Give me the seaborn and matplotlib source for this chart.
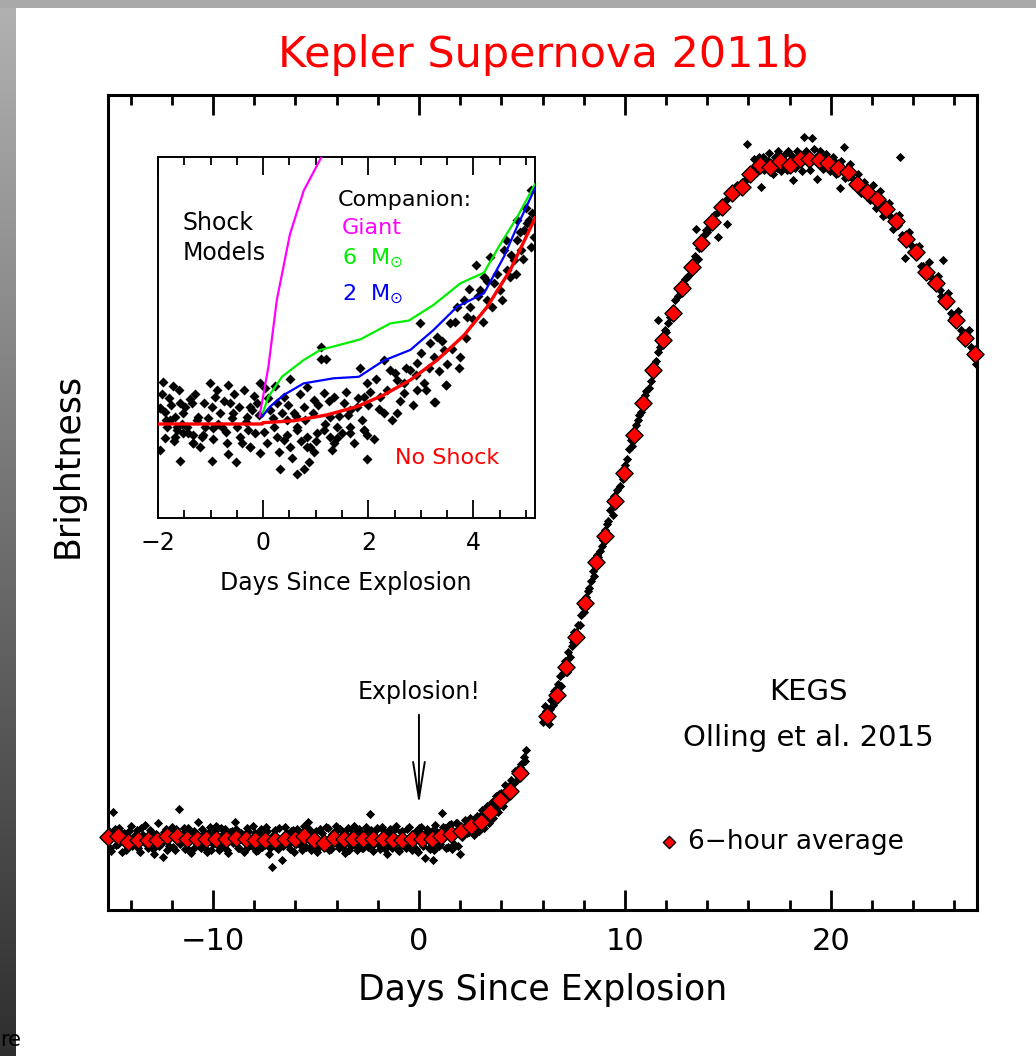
import numpy as np
import pandas as pd
import matplotlib
matplotlib.use("Agg")
import matplotlib.pyplot as plt
from matplotlib.colors import LinearSegmentedColormap
from matplotlib.patches import Rectangle
from matplotlib.ticker import MultipleLocator, FixedLocator
import seaborn as sns

# ---------------- data ----------------
# 6-hour averages (red diamonds): days since explosion, relative brightness (peak ~100)
avg_days = [-15.08, -14.6, -14.13, -13.65, -13.18, -12.7, -12.22, -11.75, -11.27, -10.8,
            -10.32, -9.85, -9.37, -8.9, -8.42, -7.94, -7.47, -6.99, -6.52, -6.04,
            -5.57, -5.09, -4.61, -4.14, -3.66, -3.19, -2.71, -2.24, -1.76, -1.28,
            -0.81, -0.33, 0.14, 0.62, 1.09, 1.57, 2.04, 2.52, 2.99, 3.47,
            3.94, 4.42, 4.89,
            6.2, 6.68, 7.14, 7.61, 8.06, 8.58, 9.04, 9.5, 9.97, 10.44,
            10.89, 11.37, 11.86, 12.34, 12.78, 13.24, 13.72, 14.21, 14.7, 15.18,
            15.67, 16.1, 16.55, 17.07, 17.52, 18.01, 18.5, 18.95, 19.42, 19.87,
            20.36, 20.84, 21.28, 21.76, 22.25, 22.7, 23.19, 23.64, 24.16, 24.61,
            25.1, 25.58, 26.07, 26.54, 26.99]
avg_flux = [0.3, 0.35, -0.4, -0.15, -0.15, -0.15, 0.35, 0.35, 0.0, 0.0,
            0.0, 0.0, 0.0, 0.1, 0.0, -0.15, -0.15, -0.15, 0.0, 0.0,
            0.35, -0.15, -0.55, 0.1, 0.0, 0.0, 0.0, 0.0, 0.0, -0.15,
            -0.15, 0.0, 0.0, 0.0, 0.35, 0.75, 1.15, 1.9, 2.55, 4.0,
            5.7, 7.0, 9.7,
            18.1, 21.2, 25.4, 29.7, 34.8, 40.8, 44.7, 49.8, 54.0, 59.5,
            64.3, 69.1, 73.6, 77.5, 81.2, 84.4, 87.9, 91.0, 93.2, 95.2,
            96.1, 98.1, 99.4, 99.1, 99.9, 99.4, 100.3, 100.3, 100.1, 99.6,
            99.0, 98.3, 96.6, 95.4, 94.3, 92.9, 91.1, 88.4, 86.6, 83.6,
            81.9, 79.3, 76.5, 73.9, 71.5]

# raw Kepler points (black) - pre-explosion baseline
raw_base_days = [-15.05, -14.95, -14.85, -14.7, -14.55, -14.4, -14.3, -14.15, -14.0, -13.85,
                 -13.7, -13.55, -13.4, -13.3, -13.15, -13.0, -12.85, -12.67, -12.55, -12.43,
                 -12.3, -12.15, -12.0, -11.85, -11.65, -11.5, -11.35, -11.2, -11.05, -10.9,
                 -10.73, -10.6, -10.45, -10.3, -10.15, -10.0, -9.85, -9.7, -9.55, -9.4,
                 -9.27, -9.1, -8.93, -8.8, -8.65, -8.5, -8.35, -8.2, -8.05, -7.9,
                 -7.75, -7.6, -7.45, -7.3, -7.14, -7.0, -6.85, -6.65, -6.5, -6.35,
                 -6.2, -6.05, -5.9, -5.75, -5.6, -5.39, -5.25, -5.1, -4.95, -4.8,
                 -4.65, -4.5, -4.35, -4.2, -4.05, -3.9, -3.75, -3.6, -3.45, -3.3,
                 -3.15, -3.0, -2.85, -2.7, -2.55, -2.38, -2.25, -2.1, -1.95, -1.8,
                 -1.65, -1.55, -1.4, -1.25, -1.1, -0.95, -0.8, -0.65, -0.5, -0.35,
                 -0.2, -0.05, 0.1, 0.29, 0.4, 0.55, 0.68, 0.8, 0.95, 1.12,
                 1.25, 1.4, 1.55, 1.7, 1.85, 1.99]
raw_base_flux = [1.2, -1.8, 4.0, -0.9, 1.6, -2.0, 0.8, -1.2, 1.9, -0.6,
                 1.3, -1.9, 0.5, 2.0, -1.4, 1.0, -2.2, 2.4, -0.8, -2.7,
                 1.5, -1.1, 1.8, -1.7, 4.4, 0.7, -1.5, 1.6, -2.1, 1.1,
                 2.5, -1.3, 0.9, -2.0, 1.7, -0.7, 1.9, -1.6, 0.6, 1.4,
                 -2.1, 1.2, 2.5, -1.4, 0.8, -1.9, 1.6, -0.9, 1.9, -1.8,
                 1.0, -1.2, 1.7, -2.2, -4.1, 1.3, -1.5, -3.1, 1.8, -0.8,
                 1.2, -1.9, 1.5, -1.1, 1.9, 2.5, -1.6, 0.9, -2.0, 1.4,
                 -0.9, 1.7, -1.7, 0.7, 1.9, -1.3, 1.2, -2.1, 1.6, -1.0,
                 1.9, -1.7, 1.0, -1.3, 1.7, 3.7, -1.8, 1.3, -0.9, 1.8,
                 -1.5, -2.2, 1.5, -1.1, 1.9, -1.8, 1.2, -1.3, 1.8, -1.6,
                 1.0, -2.0, 1.7, -2.8, 1.4, -1.5, -3.1, 2.0, -1.0, 3.8,
                 1.6, -1.2, 2.2, -0.8, 2.4, -2.2]
raw_base2_days = [-14.98, -14.78, -14.62, -14.48, -14.22, -14.08, -13.92, -13.78, -13.62, -13.48,
                  -13.22, -13.08, -12.92, -12.78, -12.62, -12.38, -12.22, -12.08, -11.92, -11.78,
                  -11.58, -11.42, -11.28, -11.12, -10.98, -10.82, -10.68, -10.52, -10.38, -10.22,
                  -10.08, -9.92, -9.78, -9.62, -9.48, -9.34, -9.18, -9.02, -8.87, -8.72,
                  -8.58, -8.42, -8.28, -8.12, -7.98, -7.82, -7.68, -7.52, -7.38, -7.22,
                  -7.08, -6.92, -6.78, -6.58, -6.42, -6.28, -6.12, -5.98, -5.82, -5.68,
                  -5.5, -5.32, -5.18, -5.02, -4.88, -4.72, -4.58, -4.42, -4.28, -4.12,
                  -3.98, -3.82, -3.68, -3.52, -3.38, -3.22, -3.08, -2.92, -2.78, -2.62,
                  -2.47, -2.32, -2.18, -2.02, -1.88, -1.72, -1.6, -1.47, -1.32, -1.18,
                  -1.02, -0.88, -0.72, -0.58, -0.42, -0.28, -0.12, 0.02, 0.18, 0.34,
                  0.48, 0.62, 0.74, 0.88, 1.04, 1.18, 1.32, 1.48, 1.62, 1.78,
                  1.92]
raw_base2_flux = [-1.3, 1.5, -0.7, 0.9, -1.6, 1.2, -1.0, 0.6, -1.4, 1.6,
                  -0.9, 1.3, -1.5, 0.7, -1.1, 1.0, -1.6, 0.8, -1.2, 1.4,
                  -0.8, 1.6, -1.3, 0.9, -1.5, 0.6, -1.0, 1.5, -1.4, 0.8,
                  -1.7, 1.2, -0.9, 1.6, -1.2, -1.6, 1.0, -0.6, 1.5, -1.3,
                  0.7, -1.5, 1.2, -1.1, 0.9, -1.6, 1.4, -0.8, 1.1, -1.4,
                  0.6, -1.2, 1.6, -1.0, 0.8, -1.5, 1.3, -0.7, 1.0, -1.6,
                  -1.2, 1.5, -0.9, 1.2, -1.4, 0.8, -1.1, 1.6, -1.5, 1.0,
                  -0.8, 1.4, -1.3, 0.7, -1.6, 1.2, -1.0, 1.5, -1.4, 0.9,
                  -1.2, 1.3, -0.7, 1.6, -1.5, 1.1, -1.0, 0.8, -1.3, 1.5,
                  -1.6, 1.0, -0.9, 1.4, -1.2, 0.7, -1.5, 1.6, -1.1, 0.9,
                  -1.4, 1.2, -1.6, 1.0, -0.8, 1.7, -1.3, 2.0, -1.5, 2.3,
                  -1.0]
# raw points - rise
raw_rise_days = [2.1, 2.25, 2.35, 2.5, 2.65, 2.8, 2.9, 3.05, 3.15, 3.3,
                 3.4, 3.55, 3.6, 3.75, 3.85, 4.0, 4.1, 4.2, 4.3, 4.45,
                 4.55, 4.65, 4.75, 4.95, 5.05, 5.2, 5.15, 6.1, 6.3, 6.4,
                 6.55, 6.75, 6.85, 7.0, 7.25, 7.35, 7.5, 7.7, 7.85, 8.0,
                 8.2, 8.35, 8.45, 8.7, 8.8, 8.95, 9.15, 9.3, 9.4, 9.6,
                 9.75, 9.85, 10.1, 10.2, 10.35, 10.55, 10.7, 10.8, 11.0, 11.15,
                 11.3, 11.5, 11.62, 11.7, 11.95, 12.1, 12.25, 12.45, 12.6, 12.9,
                 13.05, 13.4, 13.45, 13.55, 13.85, 14.0, 14.35, 14.53, 14.5, 14.85,
                 14.97, 15.0, 15.3, 15.45, 15.8, 15.91, 15.95]
raw_rise_flux = [0.2, 2.8, 0.9, 3.0, 0.6, 3.3, 1.2, 4.2, 1.6, 4.8,
                 2.4, 5.4, 3.0, 6.3, 4.0, 6.8, 4.8, 8.0, 6.0, 8.6,
                 7.0, 10.0, 8.6, 11.0, 10.0, 13.1, 11.5, 19.6, 17.0, 20.5,
                 21.8, 22.8, 24.0, 24.5, 27.5, 26.8, 29.0, 31.5, 33.0, 33.5,
                 36.5, 38.0, 39.5, 41.5, 42.5, 44.0, 46.5, 48.5, 47.8, 51.5,
                 52.0, 53.5, 56.0, 57.5, 58.0, 61.0, 62.5, 63.0, 65.5, 66.5,
                 68.5, 70.5, 76.5, 72.5, 75.0, 76.0, 77.8, 79.5, 80.0, 82.5,
                 83.0, 86.0, 89.9, 85.5, 89.0, 89.5, 92.0, 88.7, 92.5, 94.0,
                 90.7, 94.5, 95.5, 96.5, 97.0, 102.4, 98.0]
raw_rise2_days = [2.2, 2.45, 2.7, 2.95, 3.2, 3.35, 3.5, 3.7, 3.9, 4.05,
                  4.25, 4.38, 4.6, 4.8, 4.9, 5.1, 6.0, 6.15, 6.35, 6.5,
                  6.62, 6.9, 7.1, 7.2, 7.45, 7.55, 7.8, 7.95, 8.1, 8.28,
                  8.5, 8.65, 8.9, 9.05, 9.2, 9.45, 9.55, 9.9, 10.0, 10.28,
                  10.45, 10.62, 10.95, 11.05, 11.25, 11.42, 11.6, 11.8, 12.0, 12.2,
                  12.4, 12.7, 12.85, 13.0, 13.15, 13.3, 13.6, 13.78, 13.95, 14.12,
                  14.3, 14.6, 14.78, 15.1, 15.25, 15.55, 15.75, 16.0]
raw_rise2_flux = [1.8, 1.0, 2.5, 3.4, 2.6, 3.6, 4.6, 4.6, 6.6, 5.4,
                  6.8, 7.8, 8.2, 9.2, 10.6, 12.0, 17.2, 18.8, 19.2, 19.8,
                  22.0, 22.6, 26.2, 24.6, 28.4, 30.5, 31.6, 34.2, 35.6, 37.0,
                  38.8, 41.8, 43.2, 45.6, 46.8, 50.6, 49.6, 53.0, 55.2, 58.8,
                  60.2, 61.8, 64.8, 66.0, 67.5, 70.0, 71.8, 73.0, 74.8, 77.0,
                  78.2, 80.8, 81.8, 82.8, 84.0, 85.0, 87.2, 88.2, 89.8, 90.2,
                  91.5, 92.8, 93.8, 95.0, 94.8, 96.0, 96.8, 97.5]
# raw points - peak and decline
raw_peak_days = [16.2, 16.35, 16.6, 16.7, 16.85, 17.0, 17.2, 17.3, 17.45, 17.6,
                 17.75, 17.9, 18.17, 18.2, 18.35, 18.6, 18.7, 18.8, 19.0, 19.11,
                 19.2, 19.35, 19.5, 19.6, 19.75, 19.95, 20.1, 20.25, 20.47, 20.5,
                 20.63, 20.7, 20.95, 21.1, 21.3, 21.45, 21.6, 21.9, 22.05, 22.2,
                 22.4, 22.55, 22.85, 23.0, 23.3, 23.38, 23.45, 23.59, 23.8, 23.9,
                 24.3, 24.4, 24.75, 24.85, 25.2, 25.35, 25.45, 25.7, 25.85, 26.2,
                 26.3, 26.7, 26.8, 27.05]
raw_peak_flux = [99.0, 98.2, 96.2, 100.5, 99.5, 101.2, 98.0, 100.5, 101.5, 98.5,
                 100.8, 101.5, 97.1, 100.0, 101.5, 98.5, 103.5, 101.5, 98.7, 103.3,
                 101.8, 97.3, 101.5, 98.8, 101.0, 98.5, 100.5, 98.0, 96.0, 100.0,
                 102.1, 97.5, 99.5, 96.5, 98.0, 95.2, 96.8, 94.2, 96.5, 93.0,
                 95.5, 91.8, 93.8, 90.0, 92.0, 100.5, 89.0, 85.7, 89.5, 86.5,
                 87.5, 84.5, 85.0, 82.0, 83.0, 80.0, 85.3, 80.5, 77.5, 77.8,
                 75.0, 75.0, 72.5, 70.0]
raw_peak2_days = [16.1, 16.28, 16.45, 16.52, 16.78, 16.95, 17.1, 17.38, 17.55, 17.68,
                  17.85, 18.05, 18.28, 18.45, 18.55, 18.9, 19.05, 19.28, 19.45, 19.68,
                  19.85, 20.05, 20.2, 20.4, 20.58, 20.8, 21.0, 21.2, 21.38, 21.55,
                  21.7, 21.85, 22.15, 22.3, 22.48, 22.65, 22.78, 22.95, 23.1, 23.25,
                  23.55, 23.7, 23.95, 24.05, 24.2, 24.5, 24.65, 24.95, 25.05, 25.3,
                  25.55, 25.62, 25.95, 26.1, 26.4, 26.58, 26.9, 27.0]
raw_peak2_flux = [98.5, 100.2, 99.2, 100.6, 98.6, 100.0, 99.6, 99.0, 100.5, 99.4,
                  98.6, 100.8, 99.0, 100.8, 99.6, 100.8, 99.8, 100.6, 99.5, 100.4,
                  99.2, 99.5, 99.8, 98.6, 98.8, 98.0, 97.6, 97.0, 96.2, 95.6,
                  96.2, 95.0, 94.8, 94.0, 93.2, 93.4, 92.2, 91.6, 91.0, 90.5,
                  88.6, 88.0, 87.5, 86.8, 86.0, 84.5, 83.2, 82.6, 81.5, 81.0,
                  79.5, 78.8, 77.0, 76.0, 74.5, 73.5, 72.0, 71.0]

# inset: early raw points
inset_days = [-1.90, -1.72, -1.96, -1.80, -1.58, -1.39, -1.36, -1.52, -1.68, -1.83,
              -1.64, -1.45, -1.33, -1.17, -1.23, -1.01, -0.91, -0.98, -0.82, -0.66,
              -0.63, -0.57, -0.50, -0.37, -0.31, -0.25, -0.22, -0.12, -0.06, 0.04,
              -0.69, -0.25, -1.33, -1.68, -1.87, -1.10, -0.79, -0.44, -0.28, 0.51,
              0.83, 1.10, 1.10, 1.20, 0.26, 0.39, 0.58, 0.77, 0.96, 1.15,
              1.34, 1.53, 1.66, 1.78, 1.85, 1.97, 2.04, 1.91, 2.29, 2.42,
              2.55, 2.67, 2.80, 2.93, 2.99, 3.05, 3.18, 3.24, 3.31, 3.43,
              3.47, 3.56, 3.69, 3.75, 3.82, 3.88, 3.94, 4.04, 4.13, 4.20,
              4.26, 4.32, 4.39, 4.51, 4.58, 4.64, 4.70, 4.77, 4.83, 4.90,
              4.96, 5.02, 5.09, 5.15, 5.05, 4.83, 3.26, 2.23, 1.28, 1.40,
              1.66, 1.91, 0.64, 0.83, 1.02, 0.39, 0.51, 0.90, 0.20, 0.13,
              -1.96, -1.87, -1.77, -1.64, -1.52, -1.33, -1.14, -0.95, -1.96, -1.58,
              -0.98, -0.66, -0.51, -0.25, -0.06, 0.07, 0.26, 0.32, 0.64, 0.77,
              0.83, 0.96, 0.45, 0.64, 1.15, 1.28, 1.34, 1.40, 1.66, 1.91,
              1.97, 1.97, 2.29, 2.55, 2.67, 2.93, 3.24, 3.47]
inset_flux = [2.25, 2.02, 0.83, 1.37, 1.10, 1.31, 1.10, 0.57, 0.39, -0.14,
              -0.32, -0.14, -0.59, -0.67, 0.39, 2.16, 1.45, 0.92, 0.57, 2.07,
              1.10, 0.57, -0.14, 1.81, 0.39, 0.92, 0.74, 1.10, 2.16, 1.90,
              -1.03, -1.21, -1.03, -0.67, -0.76, -0.14, -0.14, -0.67, -0.32, 2.38,
              1.95, 4.08, 3.46, 3.44, 1.10, 1.45, 0.57, 0.92, 1.28, 1.63,
              1.45, 1.10, 0.74, 0.92, 2.96, 2.16, 1.72, 1.45, 3.40, 2.87,
              2.34, 2.16, 2.87, 3.23, 5.35, 2.16, 4.29, 3.58, 4.65, 3.94,
              2.07, 5.35, 6.24, 3.58, 6.60, 5.71, 6.24, 8.46, 7.13, 7.84,
              6.60, 8.90, 7.48, 7.13, 9.26, 8.19, 7.84, 8.72, 9.79, 9.26,
              10.32, 10.67, 12.45, 9.96, 10.85, 10.85, 1.19, 1.45, 0.39, -0.14,
              -0.50, -0.32, -0.32, -0.67, -0.50, -0.85, -1.21, -1.21, -0.14, 0.74,
              0.83, 0.66, 0.21, -0.14, -0.50, -1.03, -0.59, -0.23, -1.38, -1.95,
              -1.95, -1.60, -2.00, -1.21, -1.52, -1.03, -0.67, -2.41, -2.66, -2.41,
              -1.21, -1.47, 0.21, -0.14, -0.32, -0.67, -1.03, -0.76, -0.14, -0.32,
              -1.88, -0.59, 0.57, 0.57, 1.63, 1.81, 1.19, 2.07]
inset2_days = [-1.93, -1.85, -1.75, -1.7, -1.6, -1.55, -1.48, -1.42, -1.3, -1.25,
               -1.2, -1.12, -1.05, -0.95, -0.88, -0.85, -0.75, -0.7, -0.6, -0.55,
               -0.45, -0.4, -0.33, -0.18, -0.15, -0.08, 0.02, 0.1, 0.18, 0.22,
               0.3, 0.35, 0.45, 0.48, 0.55, 0.62, 0.7, 0.72, 0.8, 0.88,
               0.95, 1.0, 1.05, 1.18, 1.25, 1.3, 1.45, 1.5, 1.58, 1.62,
               1.72, 1.8, 1.88, 2.0, 2.1, 2.15, 2.2, 2.35, 2.45, 2.5,
               2.6, 2.72, 2.85, 2.9, 3.0, 3.1, 3.15, 3.35, 3.4, 3.5,
               3.6, 3.65, 3.72, 3.85, 3.92, 4.0, 4.08, 4.18, 4.25, 4.35,
               4.45, 4.55, 4.62, 4.72, 4.8, 4.88, 4.95, 5.0, 5.1, 5.12]
inset2_flux = [1.6, 0.2, 1.0, -0.9, 1.8, 0.0, 0.9, -0.5, 1.6, 0.2,
               -1.2, 1.1, 0.3, -0.8, 1.8, 0.0, 1.2, -0.4, 0.3, 1.6,
               0.9, -1.0, 0.1, 1.5, -0.5, 0.5, -0.4, 1.4, 0.3, 2.0,
               -1.5, 0.6, -0.6, 1.0, -1.8, 0.4, 1.6, -0.9, 0.2, -2.0,
               0.6, -0.9, 1.0, 0.0, 1.2, -1.4, 0.4, -0.5, 1.7, 0.5,
               -1.0, 1.4, 0.2, 1.0, -0.8, 2.4, 0.8, 1.8, 0.2, 2.7,
               1.2, 3.0, 1.0, 2.6, 3.8, 1.8, 3.0, 2.8, 4.4, 3.2,
               4.0, 5.4, 3.0, 4.6, 7.2, 5.6, 6.8, 5.4, 7.6, 6.2,
               8.0, 6.6, 9.8, 9.0, 8.0, 10.2, 8.8, 11.5, 9.4, 11.2]

# inset: shock models
none_days = [-2.0, -0.02, 0.0, 0.58, 1.21, 1.78, 2.29, 2.8, 3.31, 3.82, 4.26, 4.7, 5.18]
none_flux = [0.0, 0.0, 0.07, 0.17, 0.48, 0.92, 1.54, 2.34, 3.4, 4.72, 6.23, 8.19, 11.0]
giant_days = [-0.07, 0.1, 0.26, 0.51, 0.77, 1.09, 1.3]
giant_flux = [0.39, 3.05, 6.6, 10.1, 12.4, 14.1, 15.1]
m6_days = [-0.01, 0.1, 0.36, 0.77, 1.09, 1.85, 2.42, 2.77, 3.24, 3.75, 4.2, 4.48, 4.83, 5.18]
m6_flux = [0.57, 1.45, 2.52, 3.4, 3.94, 4.5, 5.35, 5.5, 6.33, 7.48, 8.05, 9.42, 11.0, 12.8]
m2_days = [-0.02, 0.13, 0.39, 0.77, 1.34, 1.82, 2.29, 2.8, 3.24, 3.69, 4.2, 4.58, 4.83, 5.18]
m2_flux = [0.39, 0.92, 1.54, 2.16, 2.43, 2.51, 3.37, 3.94, 5.0, 6.24, 6.95, 8.9, 10.5, 12.6]

main_xticks = [-10, 0, 10, 20]
inset_xticks = [-2, 0, 2, 4]

# ---------------- style ----------------
sns.set_theme(style="ticks")
plt.rcParams['font.family'] = ['DejaVu Sans']
plt.rcParams['axes.unicode_minus'] = True
plt.rcParams['text.color'] = 'black'
plt.rcParams['xtick.color'] = 'black'
plt.rcParams['axes.labelcolor'] = 'black'

W, H = 1036, 1056
fig = plt.figure(figsize=(W / 100, H / 100), dpi=100)
fig.patch.set_facecolor('white')


def fx(px):
    return px / W


def fy(py):
    return 1 - py / H


# slide background decoration (grey top bar and gradient left strip)
fig.patches.append(Rectangle((0, fy(8)), 1, 8 / H, transform=fig.transFigure,
                             facecolor='#a9a9a9', edgecolor='none', zorder=0))
strip = fig.add_axes([0, 0, fx(16), 1])
grad_cmap = LinearSegmentedColormap.from_list('slide', ['#b2b2b2', '#2e2e2e'])
strip.imshow(np.linspace(0, 1, 256)[:, None], cmap=grad_cmap, aspect='auto')
strip.axis('off')
fig.text(0.0, fy(1040), 're', fontsize=15, color='black', ha='left', va='center')

# ---------------- main axes ----------------
ax = fig.add_axes([fx(108), fy(910), fx(977) - fx(108), (910 - 95) / H])
raw_df = pd.DataFrame({
    'days': raw_base_days + raw_base2_days + raw_rise_days + raw_rise2_days
            + raw_peak_days + raw_peak2_days,
    'flux': raw_base_flux + raw_base2_flux + raw_rise_flux + raw_rise2_flux
            + raw_peak_flux + raw_peak2_flux,
})
avg_df = pd.DataFrame({'days': avg_days, 'flux': avg_flux})

sns.scatterplot(data=raw_df, x='days', y='flux', ax=ax, marker='D', s=22,
                color='black', linewidth=0, zorder=2, legend=False)
sns.scatterplot(data=avg_df, x='days', y='flux', ax=ax, marker='D', s=76,
                color='#ff0000', edgecolor='black', linewidth=1.0, zorder=3,
                clip_on=False, legend=False)
avg_handle = ax.collections[-1]

ax.set_xlim(-15.1, 27.1)
ax.set_ylim(-10.5, 109.7)
ax.xaxis.set_major_locator(FixedLocator(main_xticks))
ax.xaxis.set_minor_locator(MultipleLocator(2))
ax.set_yticks([])
ax.set_xlabel('')
ax.set_ylabel('')
ax.tick_params(axis='x', which='both', direction='in', top=True, bottom=True,
               width=2.0, labelsize=22, pad=12, colors='black')
ax.tick_params(axis='x', which='major', length=14.5)
ax.tick_params(axis='x', which='minor', length=7.2)
for sp in ax.spines.values():
    sp.set_visible(True)
    sp.set_linewidth(2.2)
    sp.set_color('black')

ax.annotate('', xy=(0, 4.6), xytext=(0, 18.7),
            arrowprops=dict(arrowstyle='->,head_length=2.2,head_width=0.35',
                            lw=1.4, color='black'))
ax.text(0, 21.7, 'Explosion!', fontsize=17, ha='center', va='center', color='black')
ax.text(18.9, 21.7, 'KEGS', fontsize=21, ha='center', va='center', color='black')
ax.text(18.9, 14.9, 'Olling et al. 2015', fontsize=21, ha='center', va='center', color='black')
ax.legend([avg_handle], ['6\u2212hour average'], loc='center left',
          bbox_to_anchor=(0.633, 0.083), frameon=False, fontsize=19,
          handlelength=0.8, handletextpad=0.35, borderpad=0, borderaxespad=0,
          markerscale=0.72, labelcolor='black')

fig.text(fx(543), fy(55), 'Kepler Supernova 2011b', fontsize=31, color='#ff0000',
         ha='center', va='center')
fig.text(fx(543), fy(990), 'Days Since Explosion', fontsize=25, color='black',
         ha='center', va='center')
fig.text(fx(68), fy(465), 'Brightness', fontsize=25, color='black',
         ha='center', va='center', rotation=90)

# ---------------- inset axes ----------------
axin = fig.add_axes([fx(158), fy(518), fx(535) - fx(158), (518 - 157) / H])
axin.set_zorder(5)
axin.set_facecolor('white')
in_df = pd.DataFrame({'days': inset_days + inset2_days, 'flux': inset_flux + inset2_flux})
sns.scatterplot(data=in_df, x='days', y='flux', ax=axin, marker='D', s=26,
                color='black', linewidth=0, zorder=2, legend=False)
for dd, ff, col, lw in [(giant_days, giant_flux, '#ff00ff', 1.6),
                        (m6_days, m6_flux, '#00ee00', 1.6),
                        (m2_days, m2_flux, '#0000ff', 1.6),
                        (none_days, none_flux, '#ff0000', 2.4)]:
    sns.lineplot(x=dd, y=ff, ax=axin, color=col, linewidth=lw, sort=False,
                 estimator=None, zorder=3, legend=False)

axin.set_xlim(-2, 5.17)
axin.set_ylim(-5, 14.2)
axin.xaxis.set_major_locator(FixedLocator(inset_xticks))
axin.xaxis.set_minor_locator(MultipleLocator(0.5))
axin.set_yticks([])
axin.set_xlabel('')
axin.set_ylabel('')
axin.tick_params(axis='x', which='both', direction='in', top=True, bottom=True,
                 width=1.3, labelsize=17, pad=9, colors='black')
axin.tick_params(axis='x', which='major', length=13)
axin.tick_params(axis='x', which='minor', length=5.8)
for sp in axin.spines.values():
    sp.set_visible(True)
    sp.set_linewidth(1.4)
    sp.set_color('black')

axin.text(-1.54, 10.7, 'Shock', fontsize=17, ha='left', va='center', color='black')
axin.text(-1.54, 9.1, 'Models', fontsize=17, ha='left', va='center', color='black')
axin.text(1.41, 11.9, 'Companion:', fontsize=16, ha='left', va='center', color='black')
axin.text(1.5, 10.4, 'Giant', fontsize=16, ha='left', va='center', color='#ff00ff')
axin.text(1.5, 8.8, r'6  M$_{\odot}$', fontsize=16, ha='left', va='center', color='#00ee00')
axin.text(1.5, 6.9, r'2  M$_{\odot}$', fontsize=16, ha='left', va='center', color='#0000ff')
axin.text(2.51, -1.8, 'No Shock', fontsize=16, ha='left', va='center', color='#ff0000')
fig.text(fx(346), fy(583), 'Days Since Explosion', fontsize=17, color='black',
         ha='center', va='center')

fig.savefig('out.png', dpi=100, facecolor='white')
